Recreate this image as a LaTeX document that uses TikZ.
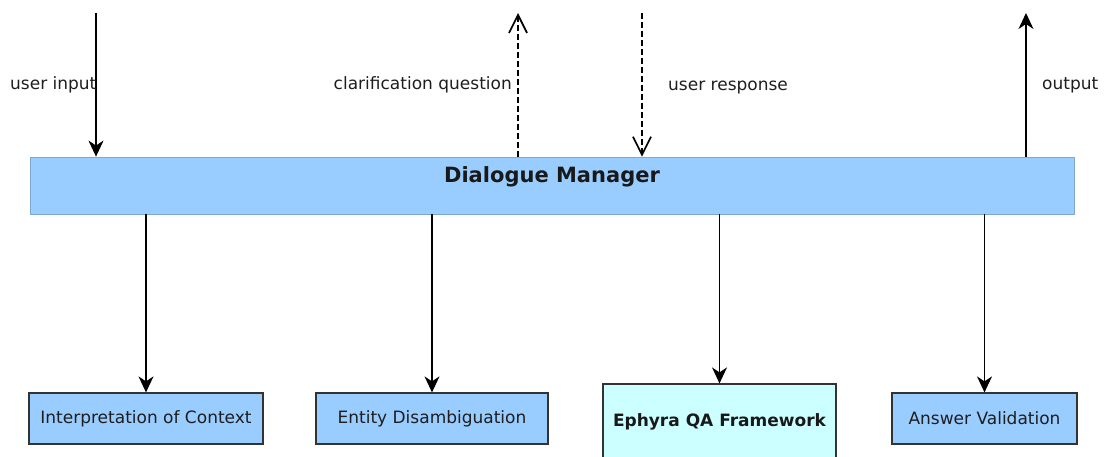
\documentclass[tikz,border=0pt]{standalone}
\usepackage{fontspec}
\setmainfont{DejaVu Sans}
\usetikzlibrary{arrows.meta}
\definecolor{boxblue}{HTML}{99CCFF}
\definecolor{boxcyan}{HTML}{CCFFFF}
\definecolor{barline}{HTML}{7FA8D0}
\definecolor{txt}{HTML}{1E1E1E}
\tikzset{
  lbl/.style={font=\fontsize{17}{20}\selectfont, text=txt, inner sep=0pt},
  compbox/.style={draw=black!80, line width=1.2pt, fill=boxblue, minimum height=51pt,
    font=\fontsize{17}{20}\selectfont, text=txt, inner sep=0pt},
  solidarrow/.style={line width=1.4pt, -{Stealth[length=16pt,width=15pt,inset=5pt]}},
  dasharrow/.style={line width=1.4pt, dash pattern=on 6pt off 3pt,
    -{Straight Barb[length=18pt,width=18pt,line width=1.7pt]}}
}
\begin{document}
\begin{tikzpicture}[x=1pt,y=-1pt]
\useasboundingbox (0,0) rectangle (1104,457);
% Dialogue Manager bar
\node[fill=boxblue, draw=barline, line width=0.8pt, minimum width=1044pt, minimum height=57pt, inner sep=0pt] (dm) at (552,185.5) {};
\node[font=\fontsize{21}{24}\selectfont\bfseries, text=black!90, inner sep=0pt] (dmtitle) at (552,177) {Dialogue Manager};
% component boxes
\node[compbox, minimum width=234pt] (ctx) at (146,418.5) {Interpretation of Context};
\node[compbox, minimum width=232pt] (ent) at (432,418.5) {Entity Disambiguation};
\begin{scope}
\clip (0,0) rectangle (1104,457);
\node[compbox, fill=boxcyan, minimum width=233pt, minimum height=76pt, font=\fontsize{17}{20}\selectfont\bfseries, text=black!90] (eph) at (719.5,422) {Ephyra QA Framework};
\end{scope}
\node[compbox, minimum width=185pt] (ans) at (984.5,418.5) {Answer Validation};
% top coordinates
\coordinate (uin) at (96,13);
\coordinate (cq) at (518,13);
\coordinate (ur) at (642,13);
\coordinate (out) at (1026,13);
% top arrows
\draw[solidarrow] (uin) -- (uin |- dm.north);
\draw[dasharrow] (cq |- dm.north) -- (cq);
\draw[dasharrow] (ur) -- (ur |- dm.north);
\draw[solidarrow] (out |- dm.north) -- (out);
% labels
\node[lbl, anchor=west] (luin) at (10,85) {user input};
\node[lbl, anchor=east] (lcq) at (512,85) {clarification question};
\node[lbl, anchor=west] (lur) at (668,88) {user response};
\node[lbl, anchor=west] (lout) at (1042,85) {output};
% bottom arrows
\draw[solidarrow] (ctx.north |- dm.south) -- (ctx.north);
\draw[solidarrow] (ent.north |- dm.south) -- (ent.north);
\draw[solidarrow] (eph.north |- dm.south) -- (eph.north);
\draw[solidarrow] (ans.north |- dm.south) -- (ans.north);
\end{tikzpicture}
\end{document}
